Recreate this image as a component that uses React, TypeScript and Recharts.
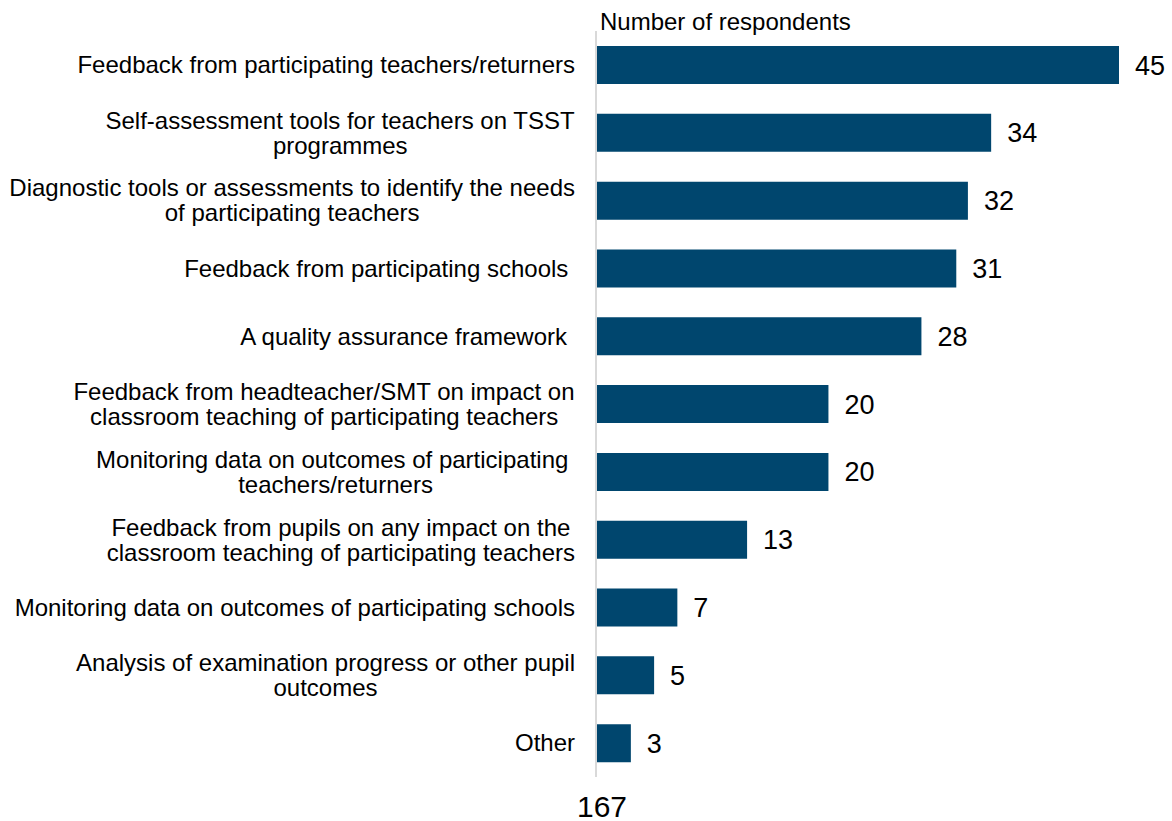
import React from "react";
import { BarChart, Bar, XAxis, YAxis, LabelList } from "recharts";

const categories: string[][] = [
  ["Feedback from participating teachers/returners"],
  ["Self-assessment tools for teachers on TSST", "programmes"],
  ["Diagnostic tools or assessments to identify the needs", "of participating teachers"],
  ["Feedback from participating schools "],
  ["A quality assurance framework "],
  ["Feedback from headteacher/SMT on impact on", "classroom teaching of participating teachers"],
  ["Monitoring data on outcomes of participating ", "teachers/returners"],
  ["Feedback from pupils on any impact on the", "classroom teaching of participating teachers"],
  ["Monitoring data on outcomes of participating schools"],
  ["Analysis of examination progress or other pupil", "outcomes"],
  ["Other"],
];
const respondents: number[] = [45, 34, 32, 31, 28, 20, 20, 13, 7, 5, 3];
const axisTitle = "Number of respondents";
const totalLabel = "167";

const data = categories.map((lines, i) => ({
  key: String(i),
  lines,
  value: respondents[i],
}));

const FONT = "'Liberation Sans', Arial, sans-serif";
const LABEL_SIZE = 24;
const LINE_H = 25;
const AXIS_X = 596;
const LABEL_RIGHT = 575;

let ctx: CanvasRenderingContext2D | null = null;
function measure(t: string): number {
  if (!ctx) {
    const c = document.createElement("canvas");
    ctx = c.getContext("2d");
  }
  if (!ctx) return t.length * 12;
  ctx.font = `${LABEL_SIZE}px 'Liberation Sans'`;
  return ctx.measureText(t).width;
}

const CatTick = (props: any) => {
  const { y, payload } = props;
  const idx = Number(payload.value);
  const lines = categories[idx] || [];
  const widths = lines.map(measure);
  const W = Math.max(...widths);
  const right = LABEL_RIGHT;
  const n = lines.length;
  return (
    <g>
      {lines.map((ln, i) => (
        <text
          key={i}
          x={right - W / 2 - widths[i] / 2}
          y={y + (i - (n - 1) / 2) * LINE_H}
          dy="0.35em"
          textAnchor="start"
          fontFamily={FONT}
          fontSize={LABEL_SIZE}
          fill="#000"
          style={{ whiteSpace: "pre" }}
        >
          {ln}
        </text>
      ))}
    </g>
  );
};

export default function App() {
  return (
    <div style={{ position: "absolute", left: 0, top: 0, width: 1172, height: 821, background: "#fff" }}>
      <BarChart
        width={1172}
        height={821}
        data={data}
        layout="vertical"
        margin={{ top: 31, right: 53, bottom: 44, left: 0 }}
      >
        <XAxis type="number" domain={[0, 45]} hide />
        <YAxis
          type="category"
          dataKey="key"
          width={AXIS_X}
          axisLine={{ stroke: "#d9d9d9", strokeWidth: 2 }}
          tickLine={false}
          tick={<CatTick />}
          interval={0}
        />
        <Bar dataKey="value" fill="#00466E" barSize={38} isAnimationActive={false}>
          <LabelList
            dataKey="value"
            position="right"
            offset={16}
            fill="#000"
            fontSize={27}
            fontFamily={FONT}
          />
        </Bar>
      </BarChart>
      <div
        style={{
          position: "absolute",
          left: 600,
          top: 9,
          fontFamily: FONT,
          fontSize: 24,
          lineHeight: "26px",
          color: "#000",
          whiteSpace: "nowrap",
        }}
      >
        {axisTitle}
      </div>
      <div
        style={{
          position: "absolute",
          left: 577,
          top: 789,
          fontFamily: FONT,
          fontSize: 30,
          lineHeight: "36px",
          color: "#000",
        }}
      >
        {totalLabel}
      </div>
    </div>
  );
}
